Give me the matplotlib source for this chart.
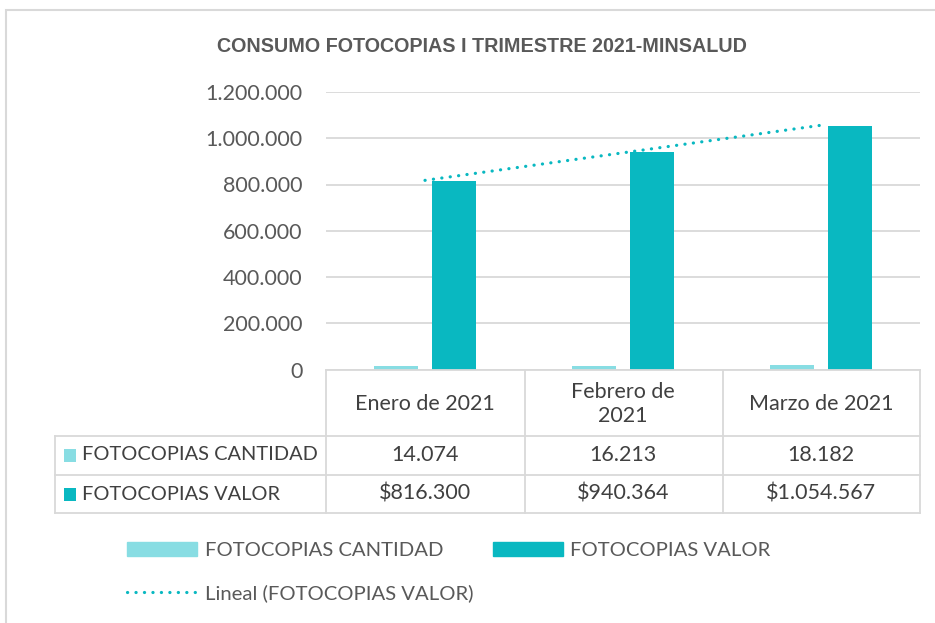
import numpy as np
import matplotlib
matplotlib.use("Agg")
import matplotlib.pyplot as plt
from matplotlib.patches import Rectangle, Patch
from matplotlib.lines import Line2D
from matplotlib.transforms import blended_transform_factory
from matplotlib.ticker import FuncFormatter

# data
meses = ["Enero de 2021", "Febrero de\n2021", "Marzo de 2021"]
cantidad = [14074, 16213, 18182]
valor = [816300, 940364, 1054567]
cantidad_txt = ["14.074", "16.213", "18.182"]
valor_txt = ["$816.300", "$940.364", "$1.054.567"]
series = ["FOTOCOPIAS CANTIDAD", "FOTOCOPIAS VALOR"]
titulo = "CONSUMO FOTOCOPIAS I TRIMESTRE 2021-MINSALUD"

c_light = "#88DDE3"
c_dark = "#09B8C1"
c_grid = "#D9D9D9"
c_text = "#595959"
c_table = "#404040"

plt.rcParams["font.family"] = ["Lato", "DejaVu Sans"]

W, H = 935, 623
fig = plt.figure(figsize=(W / 100, H / 100), dpi=100)


def fx(x):
    return x / W


def fy(y):
    return 1 - y / H


# chart border
fig.add_artist(Rectangle((fx(6), fy(640)), fx(950), 630 / H, transform=fig.transFigure,
                         fill=False, edgecolor=c_grid, linewidth=1.5))

fig.text(fx(482), fy(46), titulo, ha="center", va="center", fontsize=14.2,
         fontweight="bold", color=c_text, family=["Liberation Sans", "DejaVu Sans"])

# plot area
L, R, T, B = 326, 920, 92, 369.5
ax = fig.add_axes([fx(L), fy(B), fx(R - L), (B - T) / H])
x = np.arange(len(meses)) + 0.5
bw = 0.223
off = 0.145
ax.bar(x - off, cantidad, bw, color=c_light, zorder=3)
ax.bar(x + off, valor, bw, color=c_dark, zorder=3)

# linear trendline
k, b0 = np.polyfit(np.arange(len(valor)), valor, 1)
ax.plot(x, k * np.arange(len(valor)) + b0, color=c_dark, linewidth=2.3,
        linestyle=(0, (0.05, 2.6)), dash_capstyle="round", zorder=4)

ax.set_xlim(0, 3)
ax.set_ylim(0, 1200000)
ax.set_yticks(np.arange(0, 1200001, 200000))
ax.yaxis.set_major_formatter(FuncFormatter(lambda v, p: f"{int(v):,}".replace(",", ".")))
ax.set_xticks([])
ax.grid(axis="y", color=c_grid, linewidth=1.3, zorder=0)
for s in ax.spines.values():
    s.set_visible(False)
ax.tick_params(axis="y", length=0, pad=17, labelsize=15.5, labelcolor=c_text)

# data table
bt = blended_transform_factory(ax.transData, fig.transFigure)
tf = fig.transFigure
lw = 1.3
rows_y = [369.5, 436, 474.5, 513]
fig.add_artist(Line2D([fx(L), fx(R)], [fy(rows_y[0])] * 2, transform=tf, color=c_grid, lw=lw))
for yy in rows_y[1:]:
    fig.add_artist(Line2D([fx(55), fx(R)], [fy(yy)] * 2, transform=tf, color=c_grid, lw=lw))
for xx in [L, 525, 723, R]:
    fig.add_artist(Line2D([fx(xx)] * 2, [fy(369.5), fy(513)], transform=tf, color=c_grid, lw=lw))
fig.add_artist(Line2D([fx(55)] * 2, [fy(436), fy(513)], transform=tf, color=c_grid, lw=lw))

for i, m in enumerate(meses):
    fig.text(x[i], fy(404), m, transform=bt, ha="center", va="center", fontsize=15.5,
             color=c_table, linespacing=1.3)
    fig.text(x[i], fy(455), cantidad_txt[i], transform=bt, ha="center", va="center",
             fontsize=15.5, color=c_table)
    fig.text(x[i], fy(494), valor_txt[i], transform=bt, ha="center", va="center",
             fontsize=15.5, color=c_table)

for yy, nm, col in [(455, series[0], c_light), (494, series[1], c_dark)]:
    fig.add_artist(Rectangle((fx(64), fy(yy + 6.5)), fx(12), 13 / H, transform=tf,
                             color=col, linewidth=0))
    fig.text(fx(82), fy(yy), nm, ha="left", va="center", fontsize=14.4, color=c_table)

# legend
handles = [Patch(color=c_light, label=series[0]),
           Line2D([], [], color=c_dark, lw=2.3, linestyle=(0, (0.05, 2.6)),
                  dash_capstyle="round", label="Lineal (FOTOCOPIAS VALOR)"),
           Patch(color=c_dark, label=series[1])]
fig.legend(handles=handles, ncol=2, loc="upper left", bbox_to_anchor=(fx(127), fy(542)),
           frameon=False, fontsize=14.6, handlelength=3.45, handleheight=0.65,
           handletextpad=0.38, columnspacing=0.97, labelspacing=1.25, borderpad=0,
           borderaxespad=0, labelcolor=c_text)

fig.savefig("out.png", dpi=100)
